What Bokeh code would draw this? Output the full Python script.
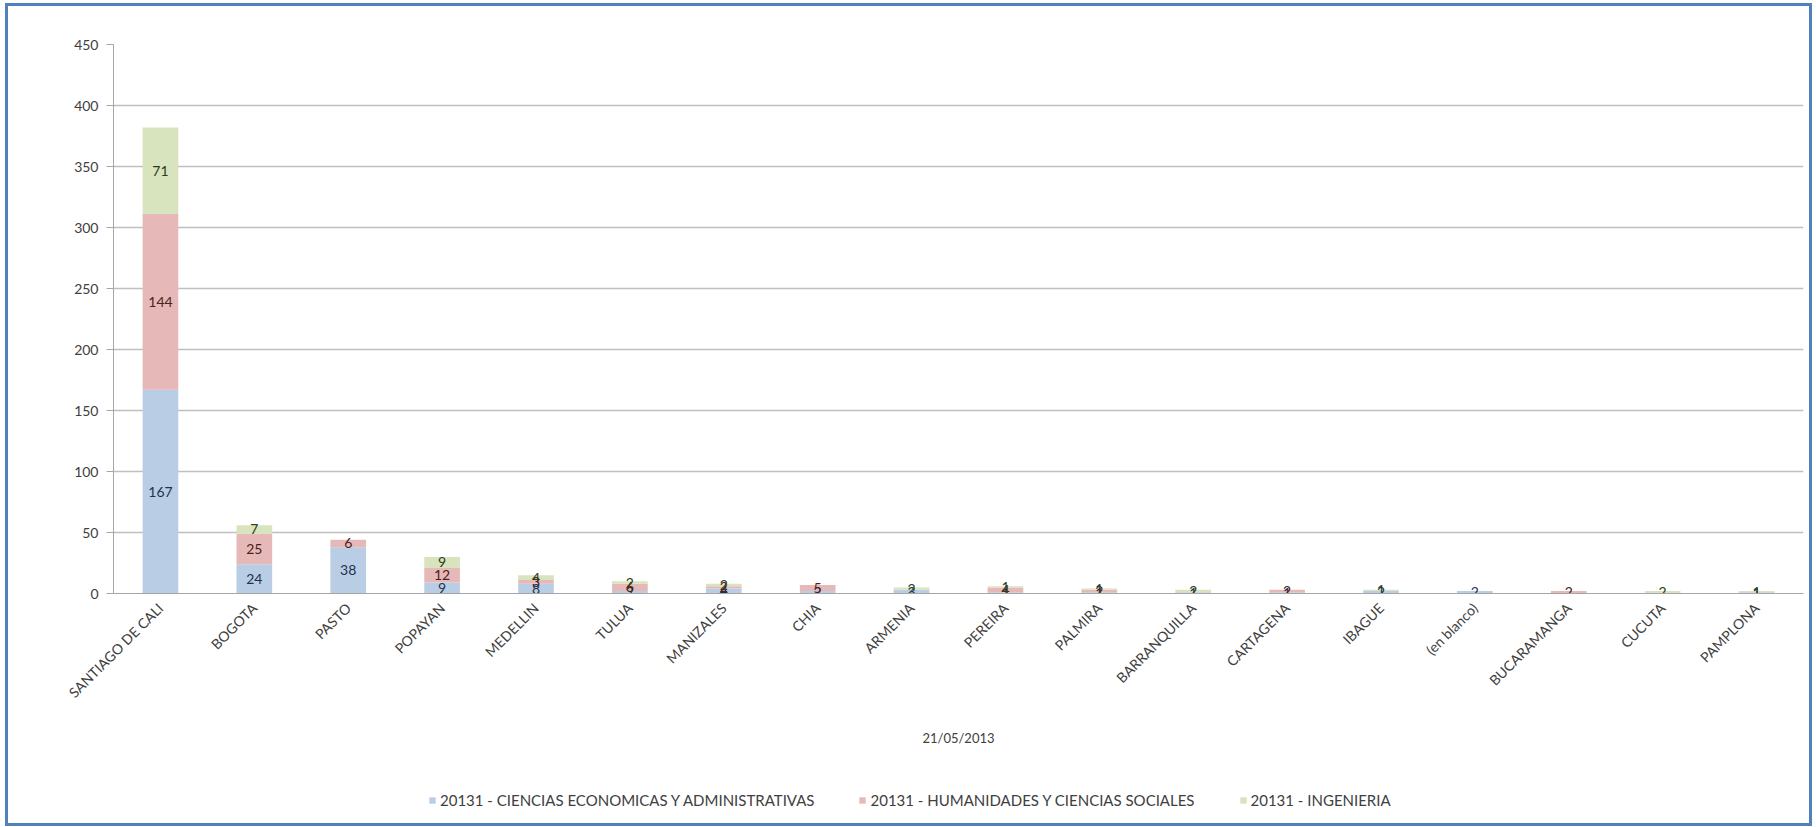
from bokeh.plotting import figure
from bokeh.layouts import column
from bokeh.models import ColumnDataSource, FactorRange, Legend, LegendItem, Range1d
from bokeh.core.properties import value
from bokeh.embed import file_html
from bokeh.resources import INLINE
import math

cities = ["SANTIAGO DE CALI", "BOGOTA", "PASTO", "POPAYAN", "MEDELLIN", "TULUA",
          "MANIZALES", "CHIA", "ARMENIA", "PEREIRA", "PALMIRA", "BARRANQUILLA",
          "CARTAGENA", "IBAGUE", "(en blanco)", "BUCARAMANGA", "CUCUTA", "PAMPLONA"]
economicas = [167, 24, 38, 9, 8, 2, 4, 2, 3, 1, 1, 1, 1, 2, 2, 0, 0, 1]
humanidades = [144, 25, 6, 12, 3, 6, 2, 5, 0, 4, 2, 0, 2, 0, 0, 2, 0, 0]
ingenieria = [71, 7, 0, 9, 4, 2, 2, 0, 2, 1, 1, 2, 0, 1, 0, 0, 2, 1]
series_names = ["20131 - CIENCIAS ECONOMICAS Y ADMINISTRATIVAS",
                "20131 - HUMANIDADES Y CIENCIAS SOCIALES",
                "20131 - INGENIERIA"]
y_ticks = [0, 50, 100, 150, 200, 250, 300, 350, 400, 450]
x_title = "21/05/2013"

colors = ["#B9CDE5", "#E6B9B8", "#D7E4BD"]
label_colors = ["#1F3350", "#4A2222", "#2E3B1E"]
FONT = "Lato"
TXT = "#404040"

p = figure(x_range=FactorRange(*cities, range_padding=0), y_range=Range1d(0, 450),
           width=1801, height=757, output_backend="svg", toolbar_location=None,
           min_border_left=105, min_border_right=6, min_border_top=38,
           min_border_bottom=170)

keys = ["economicas", "humanidades", "ingenieria"]
src = ColumnDataSource(dict(cities=cities, economicas=economicas,
                            humanidades=humanidades, ingenieria=ingenieria))
p.vbar_stack(keys, x="cities", width=0.38, color=colors, source=src, line_color=None)

# data labels centered in each segment
lx, ly, lt, lc = [], [], [], []
for i, c in enumerate(cities):
    base = 0
    for vals, col in zip([economicas, humanidades, ingenieria], label_colors):
        v = vals[i]
        if v > 0:
            lx.append(c)
            ly.append(base + v / 2)
            lt.append(str(v))
            lc.append(col)
        base += v
p.text(x=lx, y=ly, text=lt, text_color=lc, text_align="center",
       text_baseline="middle", text_font=value(FONT), text_font_size="14px")

p.outline_line_color = None
p.xgrid.grid_line_color = None
p.ygrid.grid_line_color = "#BFBFBF"
p.ygrid.grid_line_width = 1.5
p.yaxis.ticker = y_ticks
p.yaxis.axis_line_color = "#A6A6A6"
p.yaxis.major_tick_line_color = "#A6A6A6"
p.yaxis.major_tick_out = 7
p.yaxis.major_tick_in = 0
p.yaxis.minor_tick_line_color = None
p.yaxis.major_label_text_font = FONT
p.yaxis.major_label_text_font_size = "14px"
p.yaxis.major_label_text_color = TXT
p.yaxis.major_label_standoff = 8

p.xaxis.axis_line_color = "#A6A6A6"
p.xaxis.major_tick_line_color = None
p.xaxis.major_label_orientation = math.pi / 4
p.xaxis.major_label_text_font = FONT
p.xaxis.major_label_text_font_size = "14px"
p.xaxis.major_label_text_color = TXT
p.xaxis.major_label_standoff = 6
p.xaxis.axis_label = x_title
p.xaxis.axis_label_text_font = FONT
p.xaxis.axis_label_text_font_size = "13px"
p.xaxis.axis_label_text_font_style = "normal"
p.xaxis.axis_label_text_color = TXT
p.xaxis.axis_label_standoff = 20

# legend strip below the chart (its frame is aligned with the chart's frame)
q = figure(width=1801, height=60, output_backend="svg", toolbar_location=None,
           x_range=Range1d(0, 1), y_range=Range1d(0, 1),
           x_axis_type=None, y_axis_type=None,
           min_border_left=0, min_border_right=0, min_border_top=0, min_border_bottom=0)
q.grid.visible = False
q.outline_line_color = None
dummies = [q.vbar(x=[0.5], top=[0], bottom=[0], width=0.1, fill_color=c, line_color=None)
           for c in colors]
legend = Legend(items=[LegendItem(label=n, renderers=[r]) for n, r in zip(series_names, dummies)],
                orientation="horizontal", location=(315, 14),
                label_text_font=FONT, label_text_font_size="15px",
                label_text_color=TXT, glyph_width=8, glyph_height=8,
                spacing=44, border_line_color=None, background_fill_alpha=0,
                margin=0, padding=0, label_standoff=4)
q.add_layout(legend, "center")

lay = column(p, q, spacing=0)
lay.styles = {"border": "3px solid #4F81BD", "margin": "3px 0 0 5px"}

open("out.html", "w").write(file_html(lay, INLINE))
